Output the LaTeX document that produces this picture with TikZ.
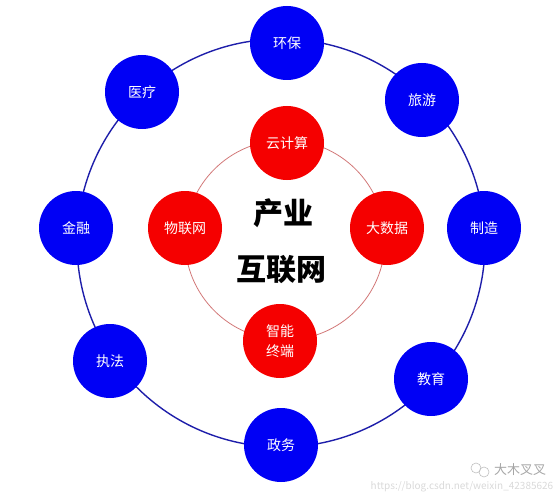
\documentclass[tikz,border=0pt]{standalone}
\usepackage{fontspec}
\setmainfont{Noto Sans CJK SC}
\usepackage{tikz}

\begin{document}
\begin{tikzpicture}[x=1pt,y=-1pt,
  outernode/.style={circle,fill={rgb,255:red,0;green,0;blue,245},minimum size=74pt,inner sep=0pt,
    text=white,font=\fontsize{14}{20}\selectfont,align=center},
  innernode/.style={outernode,fill={rgb,255:red,245;green,0;blue,0}},
  title/.style={font=\fontsize{30}{34}\selectfont\bfseries}]
\useasboundingbox (0,0) rectangle (559,500);
\draw[line width=1.4pt,color={rgb,255:red,30;green,30;blue,170}] (281,243) circle (204pt);
\draw[line width=0.8pt,color={rgb,255:red,210;green,120;blue,120}] (285,240) circle (100pt);
\node[outernode] (huanbao) at (287,43) {环保};
\node[outernode] (lvyou) at (422,100) {旅游};
\node[outernode] (zhizao) at (484,228) {制造};
\node[outernode] (jiaoyu) at (431,379) {教育};
\node[outernode] (zhengwu) at (281,445) {政务};
\node[outernode] (zhifa) at (110,361) {执法};
\node[outernode] (jinrong) at (76,228) {金融};
\node[outernode] (yiliao) at (142,92) {医疗};
\node[innernode] (yunjisuan) at (287,143) {云计算};
\node[innernode] (dashuju) at (387,228) {大数据};
\node[innernode] (zhineng) at (280,341) {智能\\终端};
\node[innernode] (wulianwang) at (185,228) {物联网};
\node[title] (chanye) at (283,213) {产业};
\node[title] (hulianwang) at (281,270) {互联网};
% watermark
\draw[gray!50,line width=0.6pt] (476,468) circle (5pt) (484,472) circle (5pt);
\node[gray!70,font=\fontsize{13}{15}\selectfont] (damu) at (520,470) {大木叉叉};
\node[gray!30,font=\fontsize{10}{12}\selectfont] (url) at (462,487) {https://blog.csdn.net/weixin\_42385626};
\end{tikzpicture}
\end{document}
